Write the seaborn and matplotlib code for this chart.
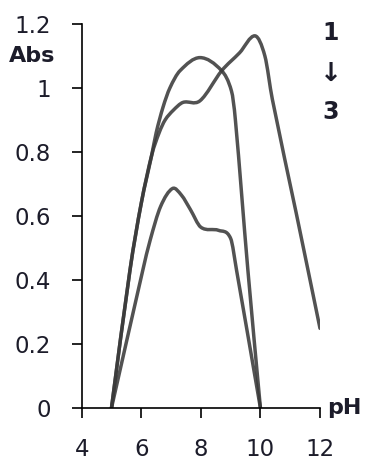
import matplotlib
matplotlib.use("Agg")
import matplotlib.pyplot as plt
from matplotlib.path import Path
from matplotlib.patches import PathPatch
import seaborn as sns

# Absorbance vs pH for three samples (1 -> 3)
ph_1 = [5, 5.62, 6.0, 6.35, 6.6, 6.8, 7.07, 7.4, 7.97, 8.7, 9.3, 9.82,
        10.15, 10.4, 11.2, 12]
abs_1 = [0, 0.43, 0.64, 0.79, 0.86, 0.90, 0.93, 0.955, 0.96, 1.054, 1.11,
         1.163, 1.10, 0.965, 0.61, 0.249]

ph_2 = [5, 5.62, 6.0, 6.35, 6.5, 6.73, 6.96, 7.3, 7.97, 8.7, 9.03, 9.16,
        9.58, 10]
abs_2 = [0, 0.43, 0.64, 0.79, 0.86, 0.94, 1.0, 1.054, 1.095, 1.054, 0.99,
         0.90, 0.43, 0]

ph_3 = [5, 6.05, 6.3, 6.65, 7.05, 7.35, 7.65, 8.0, 8.6, 9.0, 9.2, 10]
abs_3 = [0, 0.43, 0.525, 0.63, 0.686, 0.665, 0.62, 0.565, 0.555, 0.53,
         0.43, 0]

x_ticks = [4, 6, 8, 10, 12]
y_ticks = [0, 0.2, 0.4, 0.6, 0.8, 1.0, 1.2]
y_tick_labels = ["0", "0.2", "0.4", "0.6", "0.8", "1", "1.2"]

sns.set_style("ticks")
plt.rcParams["font.family"] = ["DejaVu Sans"]

TEXT = "#1c1c2a"
LINE = "#3a3a3a"


def smooth_path(xs, ys):
    """Smoothed line through the points (cubic Hermite as Bezier segments)."""
    n = len(xs)
    slopes = []
    for i in range(n):
        j0 = max(i - 1, 0)
        j1 = min(i + 1, n - 1)
        slopes.append((ys[j1] - ys[j0]) / (xs[j1] - xs[j0]))
    verts = [(xs[0], ys[0])]
    codes = [Path.MOVETO]
    for i in range(n - 1):
        h = (xs[i + 1] - xs[i]) / 3
        verts += [(xs[i] + h, ys[i] + slopes[i] * h),
                  (xs[i + 1] - h, ys[i + 1] - slopes[i + 1] * h),
                  (xs[i + 1], ys[i + 1])]
        codes += [Path.CURVE4] * 3
    return Path(verts, codes)


fig = plt.figure(figsize=(3.66, 4.61), dpi=100)
ax = fig.add_axes([0.2232, 0.1150, 0.6511, 0.8329])

for xs, ys in [(ph_1, abs_1), (ph_2, abs_2), (ph_3, abs_3)]:
    patch = PathPatch(smooth_path(xs, ys), fill=False, edgecolor=LINE,
                      linewidth=2.5, alpha=0.88, capstyle="round",
                      joinstyle="round")
    ax.add_patch(patch)

ax.set_xlim(4, 12)
ax.set_ylim(0, 1.2)
ax.set_xticks(x_ticks)
ax.set_xticklabels([str(v) for v in x_ticks])
ax.set_yticks(y_ticks)
ax.set_yticklabels(y_tick_labels)
sns.despine(ax=ax)
for side in ["left", "bottom"]:
    ax.spines[side].set_linewidth(1.2)
    ax.spines[side].set_color("black")
ax.tick_params(axis="both", length=7, width=1.2, color="black",
               labelsize=16.5, labelcolor=TEXT)
ax.tick_params(axis="y", pad=15)
ax.tick_params(axis="x", pad=14.5)

# Axis titles
ax.text(-0.112, 1.10, "Abs", transform=ax.get_yaxis_transform(),
        ha="right", va="center", fontsize=16, fontweight="bold", color=TEXT)
ax.text(1.03, 0.0, "pH", transform=ax.transAxes, ha="left", va="center",
        fontsize=16, fontweight="bold", color=TEXT)

# Series order marker
ax.text(1.046, 1.173 / 1.2, "1", transform=ax.transAxes, ha="center",
        va="center", fontsize=17, fontweight="bold", color=TEXT)
ax.text(1.046, 1.043 / 1.2, "\u2193", transform=ax.transAxes, ha="center",
        va="center", fontsize=19, fontweight="bold", color=TEXT)
ax.text(1.046, 0.925 / 1.2, "3", transform=ax.transAxes, ha="center",
        va="center", fontsize=17, fontweight="bold", color=TEXT)

fig.savefig("out.png", dpi=100, facecolor="white")
